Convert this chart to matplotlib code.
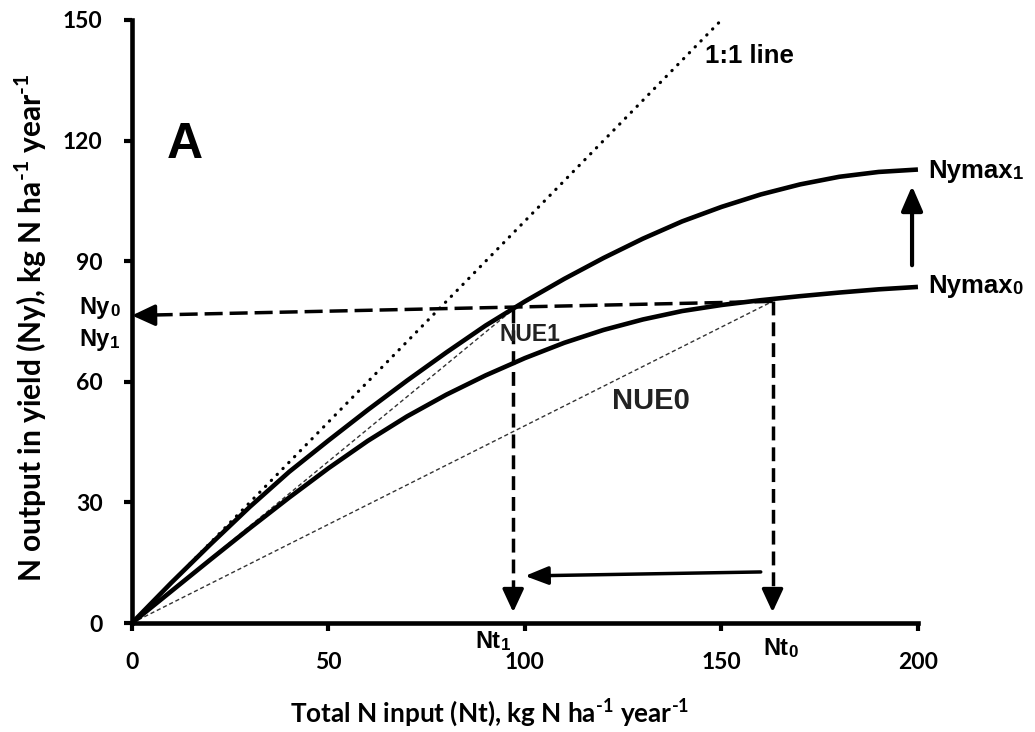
import matplotlib
matplotlib.use('Agg')
import matplotlib.pyplot as plt

plt.rcParams['font.family'] = ['Lato', 'DejaVu Sans']
plt.rcParams['font.weight'] = 'bold'
plt.rcParams['mathtext.fontset'] = 'custom'
plt.rcParams['mathtext.rm'] = 'Lato:bold'
plt.rcParams['mathtext.bf'] = 'Lato:bold'

# Datos
nt = [0, 10, 20, 30, 40, 50, 60, 70, 80, 90, 100,
      110, 120, 130, 140, 150, 160, 170, 180, 190, 200]
ny_high = [0, 10.0, 19.6, 28.9, 37.6, 45.4, 53.0, 60.3, 67.3, 74.0, 80.0,
           85.6, 90.8, 95.6, 99.9, 103.5, 106.6, 109.1, 111.0, 112.2, 112.8]
ny_low = [0, 7.9, 15.8, 23.6, 31.2, 38.5, 45.3, 51.4, 56.8, 61.6, 65.9,
          69.7, 72.9, 75.5, 77.6, 79.1, 80.3, 81.3, 82.2, 83.0, 83.6]
one_to_one = [0, 150]

nt1, nt0 = 97, 163          # Nt1, Nt0
ny_at_nt1, ny_at_nt0 = 78.0, 80.0
ny_axis = 76.5              # donde la flecha toca el eje y
shift_arrow_x = [160, 100]
shift_arrow_y = [12.7, 11.7]
nymax_arrow_x = 198.5
nymax_arrow_y = [89, 108.7]

x_ticks = [0, 50, 100, 150, 200]
y_ticks = [0, 30, 60, 90, 120, 150]

ANNOT = 'Liberation Sans'

fig = plt.figure(figsize=(10.35, 7.32), dpi=100)
ax = fig.add_axes([0.1275, 0.1489, 0.7594, 0.8238])


def arrow_head(tip, tail, hl=14, hw=6.5):
    # punta de flecha rellena (tail -> tip)
    ax.annotate('', xy=tip, xytext=tail,
                arrowprops=dict(arrowstyle='-|>,head_length=%g,head_width=%g' % (hl, hw),
                                mutation_scale=1, color='black', lw=2.5,
                                shrinkA=0, shrinkB=0),
                annotation_clip=False)


def sub_label(x, y, main, digit, size, ha='left'):
    t = ax.text(x, y, main, fontsize=size, fontweight='bold', family=ANNOT,
                ha=ha, va='baseline', clip_on=False)
    ax.annotate(digit, xy=(1, 0), xycoords=t, fontsize=size * 0.72,
                fontweight='bold', family=ANNOT, ha='left', va='bottom',
                annotation_clip=False)


# Linea 1:1 y lineas NUE
ax.plot(one_to_one, one_to_one, color='black', lw=2.3,
        linestyle=(0, (0.1, 2.5)), dash_capstyle='round', clip_on=False)
ax.plot([0, nt1], [0, ny_at_nt1], color='#333333', lw=1.0, linestyle=(0, (3, 2)))
ax.plot([0, nt0], [0, ny_at_nt0], color='#333333', lw=1.0, linestyle=(0, (3, 2)))

# Curvas de respuesta
ax.plot(nt, ny_high, color='black', lw=3.3, solid_capstyle='butt', clip_on=False)
ax.plot(nt, ny_low, color='black', lw=3.3, solid_capstyle='butt', clip_on=False)

# Lineas discontinuas con flechas
dash = (0, (5.2, 2.0))
ax.plot([nt0, 2.5], [ny_at_nt0, ny_axis + 0.05], color='black', lw=2.5, linestyle=dash)
arrow_head((0, ny_axis), (3, ny_axis + 0.03))
dash_v = (0, (4.0, 2.0))
ax.plot([nt1, nt1], [ny_at_nt1, 6], color='black', lw=2.5, linestyle=dash_v)
arrow_head((nt1, 2.7), (nt1, 6))
ax.plot([nt0, nt0], [ny_at_nt0, 6], color='black', lw=2.5, linestyle=dash_v)
arrow_head((nt0, 2.7), (nt0, 6))

# Flechas solidas
ax.annotate('', xy=(shift_arrow_x[1], shift_arrow_y[1]),
            xytext=(shift_arrow_x[0], shift_arrow_y[0]),
            arrowprops=dict(arrowstyle='-|>,head_length=14,head_width=5.5',
                            mutation_scale=1, color='black', lw=2.5,
                            shrinkA=0, shrinkB=0))
ax.annotate('', xy=(nymax_arrow_x, nymax_arrow_y[1]),
            xytext=(nymax_arrow_x, nymax_arrow_y[0]),
            arrowprops=dict(arrowstyle='-|>,head_length=15,head_width=6.5',
                            mutation_scale=1, color='black', lw=3,
                            shrinkA=0, shrinkB=0),
            annotation_clip=False)

# Textos
ax.text(8.9, 115.6, 'A', fontsize=36, fontweight='bold', family=ANNOT, va='baseline')
ax.text(145.8, 139.2, '1:1 line', fontsize=18.5, fontweight='bold', family=ANNOT, va='baseline')
ax.text(93.6, 70.2, 'NUE1', fontsize=16.5, fontweight='bold', family=ANNOT,
        va='baseline', color='#222222')
ax.text(122.1, 53.3, 'NUE0', fontsize=21, fontweight='bold', family=ANNOT,
        va='baseline', color='#222222')
sub_label(202.5, 110.7, 'Nymax', '1', 18.5)
sub_label(202.5, 82.1, 'Nymax', '0', 18.5)
sub_label(-5.6, 76.9, 'Ny', '0', 17, ha='right')
sub_label(-5.6, 69.0, 'Ny', '1', 17, ha='right')
sub_label(87.5, -6.2, 'Nt', '1', 17)
sub_label(160.6, -7.9, 'Nt', '0', 17)

# Ejes
ax.set_xlim(0, 200)
ax.set_ylim(0, 150)
ax.set_xticks(x_ticks)
ax.set_yticks(y_ticks)
for side in ['top', 'right']:
    ax.spines[side].set_visible(False)
for side in ['left', 'bottom']:
    ax.spines[side].set_linewidth(3.3)
ax.tick_params(direction='out', length=6, width=3, labelsize=16.5, pad=15)

ax.set_xlabel(r'Total N input (Nt), kg N ha$^{\text{-1}}$ year$^{\text{-1}}$',
              fontsize=18.8, fontweight='bold')
ax.set_ylabel(r'N output in yield (Ny), kg N ha$^{\text{-1}}$ year$^{\text{-1}}$',
              fontsize=21.5, fontweight='bold')
ax.xaxis.label.set_va('baseline')
ax.yaxis.label.set_va('baseline')
ax.xaxis.set_label_coords(0.455, -0.165)
ax.yaxis.set_label_coords(-0.1145, 0.49)

fig.savefig('out.png', dpi=100)
